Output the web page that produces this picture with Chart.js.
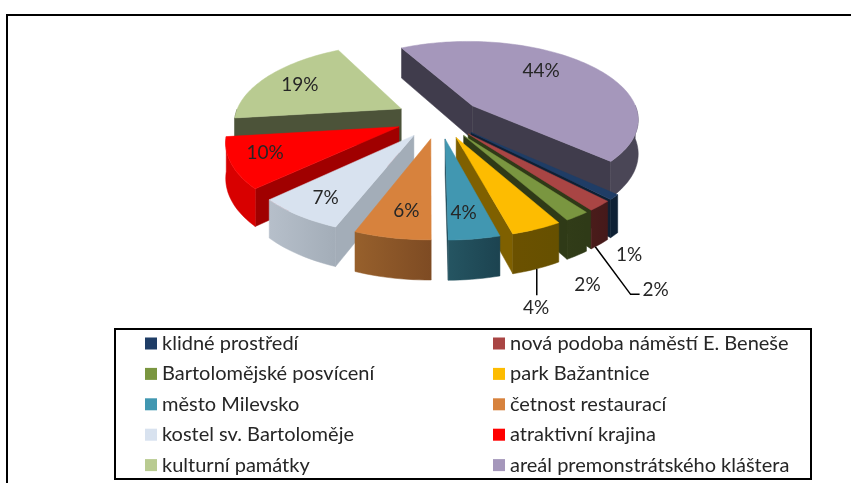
<!DOCTYPE html>
<html><head><meta charset="utf-8">
<style>html,body{margin:0;padding:0;background:#fff}canvas{display:block;filter:blur(.4px)}</style>
<script src="https://cdn.jsdelivr.net/npm/chart.js@4/dist/chart.umd.min.js"></script>
</head><body>
<canvas id="c" width="851" height="483"></canvas>
<script>
const categories = ["klidné prostředí","nová podoba náměstí E. Beneše","Bartolomějské posvícení","park Bažantnice","město Milevsko","četnost restaurací","kostel sv. Bartoloměje","atraktivní krajina","kulturní památky","areál premonstrátského kláštera"];
const shares = [1,2,2,4,4,6,7,10,19,44];
const topColors = ["#1F3D66","#A94544","#7A9640","#FDBC01","#4197B1","#D7823D","#D8E2EF","#FF0000","#B9CB91","#A597BB"];
const wallLeft  = ["#0E2034","#4A1C1A","#313C18","#6B5100","#255562","#97602C","#B6BFCA","#D80000","#4C5339","#4A4656"];
const wallRight = ["#0E2034","#45191A","#2F3A17","#665000","#1C4350","#7E4B23","#A3ADB8","#D80000","#4C5339","#4A4656"];
const edgeColors= ["#0E2034","#2F3A17","#2F3A17","#7F6000","#1C4350","#7E4B23","#A3ADB8","#A00000","#4C5339","#403C4C"];
const labelReach = [1.39,1.65,1.48,1.56,.771,.76,.80,.80,.741,.696];
const labelTurn  = [15.4,11.7,12.5,10.4,1.2,-1.5,-.7,2.1,-1,-9.7];
const leaderSlices = [1,3];

const view = {cx:439, cy:118, b:167, a:78, p:.156, H:34, q:.123};
const project = (u,v,z) => { const w = 1-view.p*v;
  return [view.cx+view.b*u/w, view.cy+view.a*v/w+z*view.H/(1-view.q*v)]; };
const LABEL_FONT = '19px Lato, sans-serif', LEGEND_FONT = '20px Lato, sans-serif';

const pie3d = {
  id:'pie3d',
  beforeDatasetsDraw(chart){
    const ctx = chart.ctx, arcs = chart.getDatasetMeta(0).data;
    const parts = arcs.map((arc,i)=>{
      const {startAngle:s,endAngle:t} = arc.getProps(['startAngle','endAngle'],true);
      const m=(s+t)/2, e=arc.options.offset/100;
      return {i,s,t,m,ax:e*Math.cos(m),ay:e*Math.sin(m)};
    });
    chart.$parts = parts;
    const order = parts.slice().sort((A,B)=>Math.sin(A.m)-Math.sin(B.m));
    const fillPoly=(pts,c)=>{ctx.beginPath();pts.forEach((p,k)=>k?ctx.lineTo(p[0],p[1]):ctx.moveTo(p[0],p[1]));ctx.closePath();ctx.fillStyle=c;ctx.fill();ctx.strokeStyle=c;ctx.lineWidth=.5;ctx.stroke();};
    const area=pts=>{let A=0;pts.forEach((p,k)=>{const q=pts[(k+1)%pts.length];A+=p[0]*q[1]-q[0]*p[1];});return A;};
    for(const P of order){
      const n=Math.max(2,Math.ceil((P.t-P.s)/0.03)), rim=[];
      for(let k=0;k<=n;k++){const th=P.s+(P.t-P.s)*k/n;rim.push([P.ax+Math.cos(th),P.ay+Math.sin(th),th]);}
      const apex=[P.ax,P.ay];
      const quad=(A,B)=>[project(A[0],A[1],0),project(B[0],B[1],0),project(B[0],B[1],1),project(A[0],A[1],1)];
      // radial faces, only those turned to the viewer
      const f1=quad(apex,rim[0]), f2=quad(rim[n],apex);
      if(area(f1)<0) fillPoly(f1,edgeColors[P.i]);
      if(area(f2)<0) fillPoly(f2,edgeColors[P.i]);
      // outer curved wall
      const xs=rim.map(r=>project(r[0],r[1],0)[0]);
      const g=ctx.createLinearGradient(Math.min(...xs),0,Math.max(...xs),0);
      g.addColorStop(0,wallLeft[P.i]);g.addColorStop(1,wallRight[P.i]);
      const front=rim.filter(r=>Math.sin(r[2])>-0.02);
      if(front.length>1){
        const pts=front.map(r=>project(r[0],r[1],0)).concat(front.slice().reverse().map(r=>project(r[0],r[1],1)));
        fillPoly(pts,g);
      }
      // top face
      fillPoly([project(apex[0],apex[1],0)].concat(rim.map(r=>project(r[0],r[1],0))),topColors[P.i]);
    }
    return false;
  },
  afterDraw(chart){
    const ctx=chart.ctx, parts=chart.$parts;
    ctx.save();
    // page frame
    ctx.strokeStyle='#000';ctx.lineWidth=2;ctx.beginPath();ctx.moveTo(851,15);ctx.lineTo(7,15);ctx.lineTo(7,483);ctx.stroke();
    // percentage labels and their leader lines
    ctx.font=LABEL_FONT;ctx.textAlign='center';ctx.textBaseline='middle';
    parts.forEach(P=>{
      const th=P.m+labelTurn[P.i]*Math.PI/180, r=labelReach[P.i];
      const [x,y]=project(P.ax+r*Math.cos(th),P.ay+r*Math.sin(th),0);
      if(leaderSlices.includes(P.i)){
        const ang=P.i===3?P.m:P.t-.03;
        const [sx,sy]=project(P.ax+Math.cos(ang),P.ay+Math.sin(ang),1);
        ctx.strokeStyle='#000';ctx.lineWidth=1.5;ctx.beginPath();ctx.moveTo(sx,sy);
        if(P.i===3){ctx.lineTo(sx,y-13);}else{ctx.lineTo(x-25,y+4);ctx.lineTo(x-16,y+4);}
        ctx.stroke();
      }
      ctx.fillStyle='#262626';
      ctx.fillText(Math.round(shares[P.i])+'%',x,y);
    });
    // legend
    ctx.strokeStyle='#000';ctx.lineWidth=2;ctx.strokeRect(115,329,696,150);
    ctx.textAlign='left';ctx.font=LEGEND_FONT;
    categories.forEach((c,i)=>{
      const col=i%2,row=Math.floor(i/2),x=col?493:145,y=343.5+row*30.4;
      ctx.fillStyle=topColors[i];ctx.fillRect(x,y-6,12,12);
      ctx.fillStyle='#262626';ctx.fillText(c,x+17,y);
    });
    ctx.restore();
  }
};

new Chart(document.getElementById('c'),{
  type:'pie',
  data:{labels:categories,datasets:[{data:shares,backgroundColor:topColors,borderWidth:0,offset:26}]},
  options:{responsive:false,animation:false,rotation:132.2,
    layout:{padding:0},
    plugins:{legend:{display:false},tooltip:{enabled:false}}},
  plugins:[pie3d]
});
</script>
</body></html>
